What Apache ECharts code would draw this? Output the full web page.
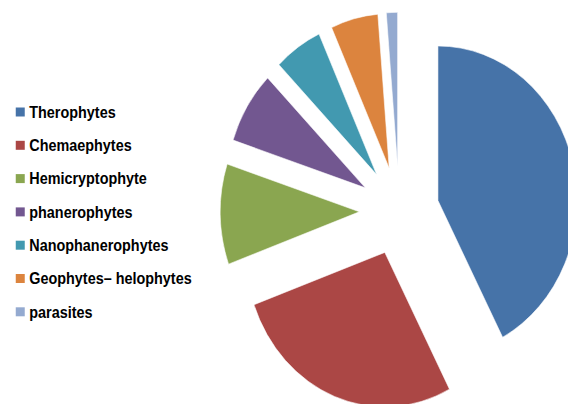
<!DOCTYPE html>
<html>
<head>
<meta charset="utf-8">
<script src="https://cdn.jsdelivr.net/npm/echarts@6/dist/echarts.min.js"></script>
<style>
  html, body { margin: 0; padding: 0; background: #ffffff; }
  #frame { width: 568px; height: 404px; overflow: hidden; position: relative; }
  /* the chart is laid out wider and compressed horizontally to the frame */
  #chart { width: 631px; height: 404px; transform: scaleX(0.9); transform-origin: 0 0; }
</style>
</head>
<body>
<div id="frame"><div id="chart"></div></div>
<script>
// Life-form spectrum (% of species)
const categories = [
  'Therophytes',
  'Chemaephytes',
  'Hemicryptophyte',
  'phanerophytes',
  'Nanophanerophytes',
  'Geophytes\u2013 helophytes',
  'parasites'
];
const shares = [42.3, 27.2, 10.5, 7.6, 5.6, 5.5, 1.3];
const colors = ['#4673a8', '#ab4745', '#8aa650', '#725790', '#4299b0', '#dc843e', '#94aad0'];

const chart = echarts.init(document.getElementById('chart'), null, { renderer: 'svg' });

chart.setOption({
  animation: false,
  backgroundColor: '#ffffff',
  color: colors,
  legend: {
    orient: 'vertical',
    left: 12.5,
    top: 99,
    itemWidth: 10,
    itemHeight: 9,
    itemGap: 17.3,
    icon: 'path://M0,0H10V9H0Z',
    itemStyle: { borderWidth: 0 },
    selectedMode: false,
    textStyle: {
      fontFamily: 'Liberation Sans, Arial, sans-serif',
      fontWeight: 'bold',
      fontSize: 16,
      lineHeight: 16,
      color: '#000000'
    },
    data: categories
  },
  series: [{
    type: 'pie',
    center: [443.6, 211.1],
    radius: 154.5,
    startAngle: 90,
    clockwise: true,
    selectedMode: 'multiple',
    selectedOffset: 44.3,
    avoidLabelOverlap: false,
    label: { show: false },
    labelLine: { show: false },
    emphasis: { disabled: true },
    itemStyle: { borderColor: '#ffffff', borderWidth: 0.6 },
    data: categories.map((name, i) => ({ name: name, value: shares[i], selected: true }))
  }]
});
</script>
</body>
</html>
